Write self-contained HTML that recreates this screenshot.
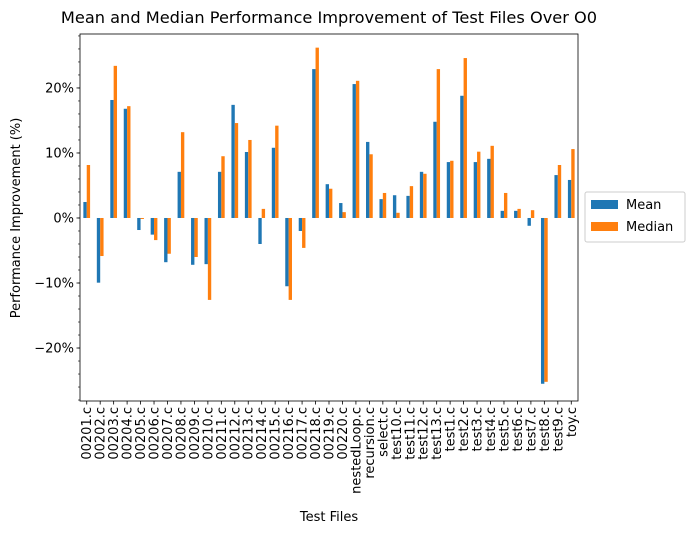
<!DOCTYPE html>
<html><head><meta charset="utf-8"><style>
body{margin:0;background:#fff;}
svg{display:block;font-family:"DejaVu Sans","Liberation Sans",sans-serif;}
</style></head><body>
<svg id="chart" width="695" height="533">
<text x="329" y="23" text-anchor="middle" font-size="16.2">Mean and Median Performance Improvement of Test Files Over O0</text>
<text transform="translate(20,218) rotate(-90)" text-anchor="middle" font-size="13">Performance Improvement (%)</text>
<text x="329" y="521" text-anchor="middle" font-size="13">Test Files</text>
<g id="marks"></g>
<rect x="80" y="34" width="498" height="367" fill="none" stroke="#000" stroke-width="0.8"/>
<g>
<rect x="585" y="192" width="100" height="50" fill="#fff" stroke="#ccc" rx="2"/>
<rect x="591" y="200" width="27" height="9" fill="#1f77b4"/>
<text x="626" y="209" font-size="13">Mean</text>
<rect x="591" y="222" width="27" height="9" fill="#ff7f0e"/>
<text x="626" y="231" font-size="13">Median</text>
</g>
</svg>
<script>
const categories=["00201.c","00202.c","00203.c","00204.c","00205.c","00206.c","00207.c","00208.c","00209.c","00210.c","00211.c","00212.c","00213.c","00214.c","00215.c","00216.c","00217.c","00218.c","00219.c","00220.c","nestedLoop.c","recursion.c","select.c","test10.c","test11.c","test12.c","test13.c","test1.c","test2.c","test3.c","test4.c","test5.c","test6.c","test7.c","test8.c","test9.c","toy.c"];
const meanValues=[2.46,-9.95,18.15,16.8,-1.85,-2.56,-6.8,7.1,-7.2,-7.1,7.1,17.4,10.15,-4.0,10.8,-10.5,-2.0,22.9,5.2,2.3,20.6,11.7,2.9,3.5,3.4,7.1,14.8,8.6,18.8,8.6,9.1,1.1,1.1,-1.2,-25.5,6.6,5.85];
const medianValues=[8.15,-5.85,23.4,17.2,-0.15,-3.4,-5.5,13.2,-6.0,-12.6,9.5,14.6,12.0,1.4,14.2,-12.6,-4.6,26.2,4.5,0.9,21.1,9.8,3.85,0.8,4.9,6.8,22.9,8.8,24.6,10.2,11.1,3.85,1.4,1.2,-25.2,8.15,10.6];
const yTicks=[-20,-10,0,10,20];
const yTickLabels=["\u221220%","\u221210%","0%","10%","20%"];
const NS="http://www.w3.org/2000/svg";
const L=80,R=578,T=34,B=401,yMin=-28.15,yMax=28.3;
const y=v=>B-(v-yMin)/(yMax-yMin)*(B-T);
const band=(R-L)/categories.length;
const x=i=>L+band*(i+0.5);
const g=document.getElementById('marks');
function mk(tag,at){const e=document.createElementNS(NS,tag);for(const k in at)e.setAttribute(k,at[k]);g.appendChild(e);return e;}
const bw=band*0.25;
categories.forEach((c,i)=>{
  const cx=x(i);
  let v=meanValues[i];
  let r=mk('rect',{x:cx-bw,y:Math.min(y(v),y(0)),width:bw,height:Math.abs(y(v)-y(0)),fill:'#1f77b4'});
  
  
  v=medianValues[i];
  r=mk('rect',{x:cx,y:Math.min(y(v),y(0)),width:bw,height:Math.abs(y(v)-y(0)),fill:'#ff7f0e'});
  
  
  mk('line',{x1:cx,x2:cx,y1:B,y2:B+3.5,stroke:'#000','stroke-width':0.8});
  const t=mk('text',{transform:`translate(${cx+4.5},${B+6}) rotate(-90)`,'text-anchor':'end','font-size':13});
  t.textContent=c;
  
  
});
for(let v=-28;v<=28;v+=2){mk('line',{x1:L-2,x2:L,y1:y(v),y2:y(v),stroke:'#000','stroke-width':0.6});}
yTicks.forEach((v,i)=>{
  mk('line',{x1:L-3.5,x2:L,y1:y(v),y2:y(v),stroke:'#000','stroke-width':0.8});
  const t=mk('text',{x:L-6,y:y(v)+4.5,'text-anchor':'end','font-size':13});
  t.textContent=yTickLabels[i];
  
  
});
</script>
</body></html>
